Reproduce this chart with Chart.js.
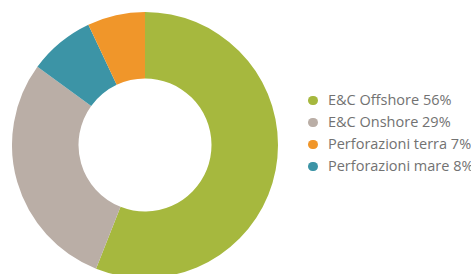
<!DOCTYPE html>
<html>
<head>
<meta charset="utf-8">
<script src="https://cdn.jsdelivr.net/npm/chart.js@4/dist/chart.umd.min.js"></script>
<style>
  html, body { margin: 0; padding: 0; background: #ffffff; }
  #wrap { position: relative; width: 471px; height: 274px; overflow: hidden; background: #ffffff; }
  #cv { position: absolute; left: 0; top: 0; }
  #legend { position: absolute; left: 308px; top: 89px; font-family: "Open Sans", sans-serif; font-size: 14.5px; color: #727272; }
  .row { position: relative; height: 22px; line-height: 22px; white-space: nowrap; padding-left: 20px; }
  .dot { position: absolute; left: 0px; top: 6.5px; width: 9.5px; height: 9.5px; border-radius: 50%; }
</style>
</head>
<body>
<div id="wrap">
  <canvas id="cv" width="290" height="290"></canvas>
  <div id="legend"></div>
</div>
<script>
// Legend order
const categories = ['E&C Offshore', 'E&C Onshore', 'Perforazioni terra', 'Perforazioni mare'];
const shares = [56, 29, 7, 8];
const colors = ['#a6b83e', '#baaea6', '#f0962a', '#3c94a6'];
// Clockwise drawing order starting from 12 o'clock
const drawOrder = [0, 1, 3, 2];

const legend = document.getElementById('legend');
categories.forEach((c, i) => {
  const row = document.createElement('div');
  row.className = 'row';
  const dot = document.createElement('span');
  dot.className = 'dot';
  dot.style.background = colors[i];
  row.appendChild(dot);
  row.appendChild(document.createTextNode(c + ' ' + shares[i] + '%'));
  legend.appendChild(row);
});

new Chart(document.getElementById('cv'), {
  type: 'doughnut',
  data: {
    labels: drawOrder.map(i => categories[i]),
    datasets: [{
      data: drawOrder.map(i => shares[i]),
      backgroundColor: drawOrder.map(i => colors[i]),
      borderWidth: 0
    }]
  },
  options: {
    responsive: false,
    animation: false,
    cutout: '50%',
    layout: { padding: { left: 12, right: 12, top: 12, bottom: 12 } },
    plugins: { legend: { display: false }, tooltip: { enabled: false } }
  }
});
</script>
</body>
</html>
